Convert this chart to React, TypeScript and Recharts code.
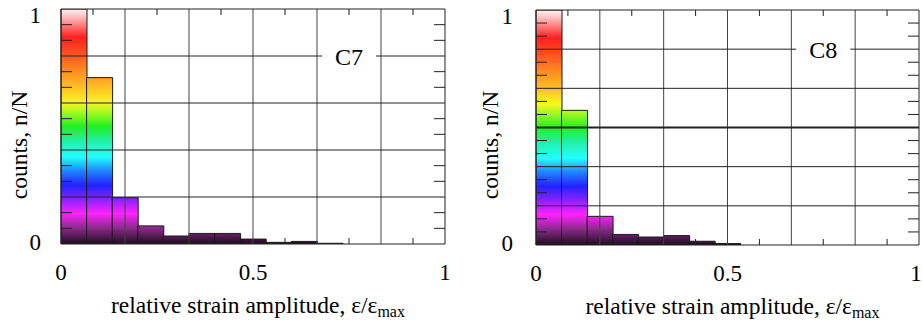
import React from 'react';
import { BarChart, Bar, XAxis, YAxis, ReferenceLine, ReferenceDot } from 'recharts';

// histogram bins (left edge of each 1/15 wide bin)
const binStarts = [0, 0.067, 0.133, 0.2, 0.267, 0.333, 0.4, 0.467, 0.533, 0.6, 0.667, 0.733, 0.8, 0.867, 0.933];

// normalised counts n/N
const c7Counts = [1.0, 0.708, 0.197, 0.077, 0.034, 0.045, 0.045, 0.021, 0.007, 0.011, 0.003, 0, 0, 0, 0];
const c8Counts = [1.0, 0.573, 0.122, 0.045, 0.034, 0.04, 0.016, 0.006, 0, 0, 0, 0, 0, 0, 0];

const xTicks = [0, 0.5, 1];
const yTicks = [0, 1];
const xGrid = [1 / 6, 2 / 6, 3 / 6, 4 / 6, 5 / 6];
const xMinor = [1 / 12, 3 / 12, 5 / 12, 7 / 12, 9 / 12, 11 / 12];
const c7YGrid = [0.2, 0.4, 0.6, 0.8];
const c8YGrid = [1 / 6, 2 / 6, 3 / 6, 4 / 6, 5 / 6];
const c7YMinor = [1, 2, 4, 5, 7, 8, 10, 11, 13, 14].map((i) => i / 15);
const c8YMinor = [1, 2, 4, 5, 7, 8, 10, 11, 13, 14, 16, 17].map((i) => i / 18);

const FONT = "'Liberation Serif', 'Times New Roman', serif";
const INK = '#222';

const rainbow: [number, string][] = [
  [0, '#fff2f2'],
  [0.03, '#ffc4c4'],
  [0.12, '#ff2020'],
  [0.19, '#ff5220'],
  [0.26, '#ff8a22'],
  [0.34, '#ffc424'],
  [0.4, '#f6f820'],
  [0.44, '#a4f820'],
  [0.5, '#22f022'],
  [0.56, '#22f0a4'],
  [0.63, '#22ffff'],
  [0.69, '#2084ff'],
  [0.75, '#2222ff'],
  [0.81, '#8a22ff'],
  [0.87, '#ff22ff'],
  [0.93, '#8e2a8e'],
  [1, '#1e0e1e'],
];

type PanelProps = {
  id: string;
  name: string;
  counts: number[];
  yGrid: number[];
  yMinor: number[];
  boldGrid?: number;
  width: number;
  top: number;
  right: number;
  yAxisW: number;
  xAxisH: number;
  yTickGap: number;
  yTitleX: number;
  lastDx: number;
};

const noTick = () => <g />;

function Panel(p: PanelProps) {
  const data = binStarts.map((b, i) => ({ bin: b, n: p.counts[i] }));
  const plotBottom = 322 - p.xAxisH;
  const topGrid = p.yGrid[p.yGrid.length - 1];

  const yTick = (t: any) => {
    const v = t.payload.value;
    return (
      <text
        x={p.yAxisW - p.yTickGap}
        y={t.y + (v === 1 ? 6 : -2)}
        textAnchor="end"
        dominantBaseline="central"
        fontSize={23}
        fontFamily={FONT}
        fill="#000"
      >
        {v}
      </text>
    );
  };

  const xTick = (t: any) => {
    const v = t.payload.value;
    return (
      <text
        x={t.x + (v === 1 ? p.lastDx : 0)}
        y={t.y}
        dy="0.71em"
        textAnchor="middle"
        fontSize={23}
        fontFamily={FONT}
        fill="#000"
      >
        {v}
      </text>
    );
  };

  return (
    <BarChart
      width={p.width}
      height={322}
      data={data}
      margin={{ top: p.top, right: p.right, bottom: 0, left: 0 }}
      barCategoryGap={0}
      barGap={0}
    >
      <defs>
        <linearGradient id={p.id} gradientUnits="userSpaceOnUse" x1={0} y1={p.top} x2={0} y2={plotBottom}>
          {rainbow.map(([o, c]) => (
            <stop key={o} offset={o} stopColor={c} />
          ))}
        </linearGradient>
      </defs>
      <XAxis xAxisId="bins" dataKey="bin" type="category" hide height={0} />
      <XAxis
        xAxisId="bot"
        dataKey="bin"
        orientation="bottom"
        type="number"
        domain={[0, 1]}
        allowDataOverflow
        ticks={xMinor}
        interval={0}
        mirror
        height={1}
        tickSize={6}
        tick={noTick}
        tickLine={{ stroke: INK }}
        axisLine={false}
      />
      <XAxis
        xAxisId="v"
        dataKey="bin"
        type="number"
        domain={[0, 1]}
        allowDataOverflow
        ticks={xTicks}
        interval={0}
        height={p.xAxisH}
        tickLine={false}
        tickMargin={14}
        axisLine={{ stroke: INK }}
        tick={xTick}
        label={{
          content: (l: any) => {
            const vb = l.viewBox || { x: 0, width: 0 };
            return (
              <text
                x={vb.x + vb.width / 2 + 5}
                y={plotBottom + 69}
                textAnchor="middle"
                fontSize={23.5}
                fontFamily={FONT}
                fill="#000"
              >
                relative strain amplitude, ε/ε
                <tspan dy={4} fontSize={16}>
                  max
                </tspan>
              </text>
            );
          },
        }}
      />
      <XAxis
        xAxisId="top"
        dataKey="bin"
        orientation="top"
        type="number"
        domain={[0, 1]}
        allowDataOverflow
        ticks={xMinor}
        interval={0}
        mirror
        height={1}
        tickSize={6}
        tick={noTick}
        tickLine={{ stroke: INK }}
        axisLine={{ stroke: INK }}
      />
      <YAxis
        yAxisId="main"
        type="number"
        domain={[0, 1]}
        allowDataOverflow
        ticks={yTicks}
        interval={0}
        width={p.yAxisW}
        tickLine={false}
        axisLine={{ stroke: INK }}
        tick={yTick}
        label={{
          content: () => (
            <text
              transform={`translate(${p.yTitleX}, 145) rotate(-90)`}
              textAnchor="middle"
              dominantBaseline="central"
              fontSize={23.5}
              fontFamily={FONT}
              fill="#000"
            >
              counts, n/N
            </text>
          ),
        }}
      />
      <YAxis
        yAxisId="left"
        type="number"
        domain={[0, 1]}
        allowDataOverflow
        ticks={p.yMinor}
        interval={0}
        mirror
        width={1}
        tickSize={11}
        tick={noTick}
        tickLine={{ stroke: INK }}
        axisLine={false}
      />
      <YAxis
        yAxisId="right"
        orientation="right"
        type="number"
        domain={[0, 1]}
        allowDataOverflow
        ticks={p.yMinor}
        interval={0}
        mirror
        width={1}
        tickSize={11}
        tick={noTick}
        tickLine={{ stroke: INK }}
        axisLine={{ stroke: INK }}
      />
      <Bar
        xAxisId="bins"
        yAxisId="main"
        dataKey="n"
        fill={`url(#${p.id})`}
        stroke="#1a1a1a"
        strokeWidth={1}
        isAnimationActive={false}
      />
      {xGrid.map((g) => (
        <ReferenceLine key={`x${g}`} xAxisId="v" yAxisId="main" x={g} stroke="#444" strokeWidth={1} />
      ))}
      {p.yGrid.map((g) => (
        <ReferenceLine
          key={`y${g}`}
          xAxisId="v"
          yAxisId="main"
          y={g}
          stroke="#222"
          strokeWidth={g === p.boldGrid ? 2 : 1}
        />
      ))}
      <ReferenceDot
        xAxisId="v"
        yAxisId="main"
        x={0.75}
        y={topGrid}
        r={0}
        shape={(s: any) => (
          <g>
            <rect x={s.cx - 27} y={s.cy - 13} width={54} height={26} fill="#fff" />
            <text
              x={s.cx}
              y={s.cy + 1}
              textAnchor="middle"
              dominantBaseline="central"
              fontSize={24}
              fontFamily={FONT}
              fill="#000"
            >
              {p.name}
            </text>
          </g>
        )}
      />
    </BarChart>
  );
}

export default function App() {
  return (
    <div style={{ position: 'absolute', left: 0, top: 0, width: 922, height: 322, background: '#fff' }}>
      <div style={{ position: 'absolute', left: 0, top: 0 }}>
        <Panel
          id="grad7"
          name="C7"
          counts={c7Counts}
          yGrid={c7YGrid}
          yMinor={c7YMinor}
          width={460}
          top={9}
          right={15}
          yAxisW={61}
          xAxisH={78}
          yTickGap={20}
          yTitleX={19}
          lastDx={0}
        />
      </div>
      <div style={{ position: 'absolute', left: 460, top: 0 }}>
        <Panel
          id="grad8"
          name="C8"
          counts={c8Counts}
          yGrid={c8YGrid}
          yMinor={c8YMinor}
          boldGrid={3 / 6}
          width={462}
          top={10}
          right={3}
          yAxisW={76}
          xAxisH={77}
          yTickGap={23}
          yTitleX={30}
          lastDx={-3}
        />
      </div>
    </div>
  );
}
